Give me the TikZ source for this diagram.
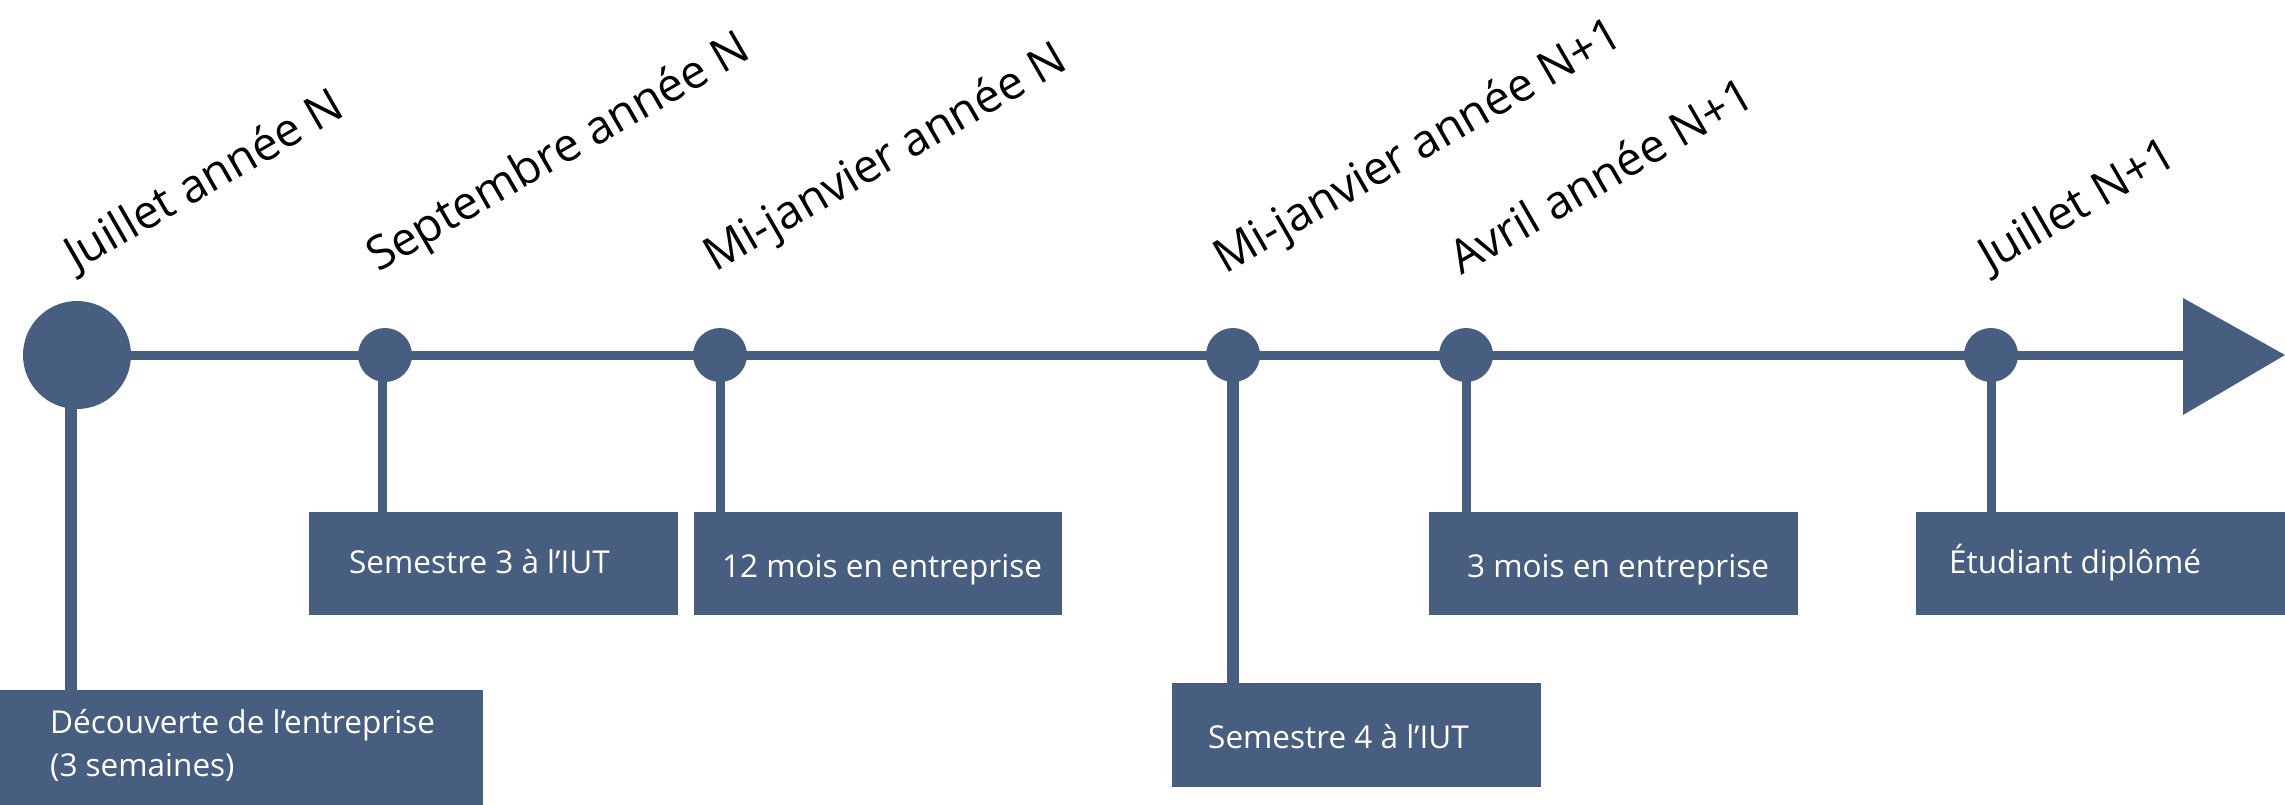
\documentclass[tikz,border=0pt]{standalone}
\usepackage{fontspec}
\setmainfont{Open Sans}
\definecolor{slate}{RGB}{72,94,128}
\tikzset{
  dot/.style={circle, fill=slate, inner sep=0pt, minimum size=#1},
  bar/.style={rectangle, fill=slate, inner sep=0pt, anchor=north west},
  boxtext/.style={text=white, anchor=base west, inner sep=0pt, align=left, font=\fontsize{31.5}{43}\selectfont},
  datelabel/.style={text=black, rotate=30, anchor=base west, inner sep=0pt, font=\fontsize{46.5}{54}\selectfont},
  thin link/.style={draw=slate, line width=9pt},
  thick link/.style={draw=slate, line width=12pt},
}
\begin{document}
\begin{tikzpicture}[x=1pt, y=-1pt]
\useasboundingbox (0,0) rectangle (2285,805);
% boxes
\node[bar, minimum width=483pt, minimum height=115pt] (b1) at (0,690) {};
\node[bar, minimum width=369pt, minimum height=103pt] (b2) at (309,512) {};
\node[bar, minimum width=368pt, minimum height=103pt] (b3) at (694,512) {};
\node[bar, minimum width=369pt, minimum height=104pt] (b4) at (1172,683) {};
\node[bar, minimum width=369pt, minimum height=103pt] (b5) at (1429,512) {};
\node[bar, minimum width=369pt, minimum height=103pt] (b6) at (1916,512) {};
% timeline points
\node[dot=108pt] (c1) at (77,355) {};
\node[dot=54pt] (c2) at (385,355) {};
\node[dot=54pt] (c3) at (720,355) {};
\node[dot=54pt] (c4) at (1233,355) {};
\node[dot=54pt] (c5) at (1466,355) {};
\node[dot=54pt] (c6) at (1991,355) {};
% arrow
\coordinate (ab) at (2183,355);
\coordinate (tip) at (2285,355);
\draw[thin link] (c1.east) -- (ab);
\fill[slate] (2183,298) -- (tip) -- (2183,415) -- cycle;
% connectors
\draw[thick link] ([xshift=-6pt]c1.center) -- ([xshift=-6pt]c1.center |- b1.north);
\draw[thin link] ([xshift=-3pt]c2.center) -- ([xshift=-3pt]c2.center |- b2.north);
\draw[thin link] (c3.center) -- (c3.center |- b3.north);
\draw[thick link] (c4.center) -- (c4.center |- b4.north);
\draw[thin link] (c5.center) -- (c5.center |- b5.north);
\draw[thin link] (c6.center) -- (c6.center |- b6.north);
% box texts
\node[boxtext] (t1) at ([xshift=50pt,yshift=-86pt]b1.north west) {Découverte de l’entreprise\\(3 semaines)};
\node[boxtext] (t2) at ([xshift=40pt,yshift=-61pt]b2.north west) {Semestre 3 à l’IUT};
\node[boxtext] (t3) at ([xshift=28pt,yshift=-65pt]b3.north west) {12 mois en entreprise};
\node[boxtext] (t4) at ([xshift=36pt,yshift=-65pt]b4.north west) {Semestre 4 à l’IUT};
\node[boxtext] (t5) at ([xshift=38pt,yshift=-65pt]b5.north west) {3 mois en entreprise};
\node[boxtext] (t6) at ([xshift=33pt,yshift=-61pt]b6.north west) {Étudiant diplômé};
% date labels
\node[datelabel] (d1) at (76,272) {Juillet année N};
\node[datelabel] (d2) at (378,273) {Septembre année N};
\node[datelabel] (d3) at (715,273) {Mi-janvier année N};
\node[datelabel] (d4) at (1225,275) {Mi-janvier année N+1};
\node[datelabel] (d5) at (1461,276) {Avril année N+1};
\node[datelabel] (d6) at (1990,273) {Juillet N+1};
\end{tikzpicture}
\end{document}
